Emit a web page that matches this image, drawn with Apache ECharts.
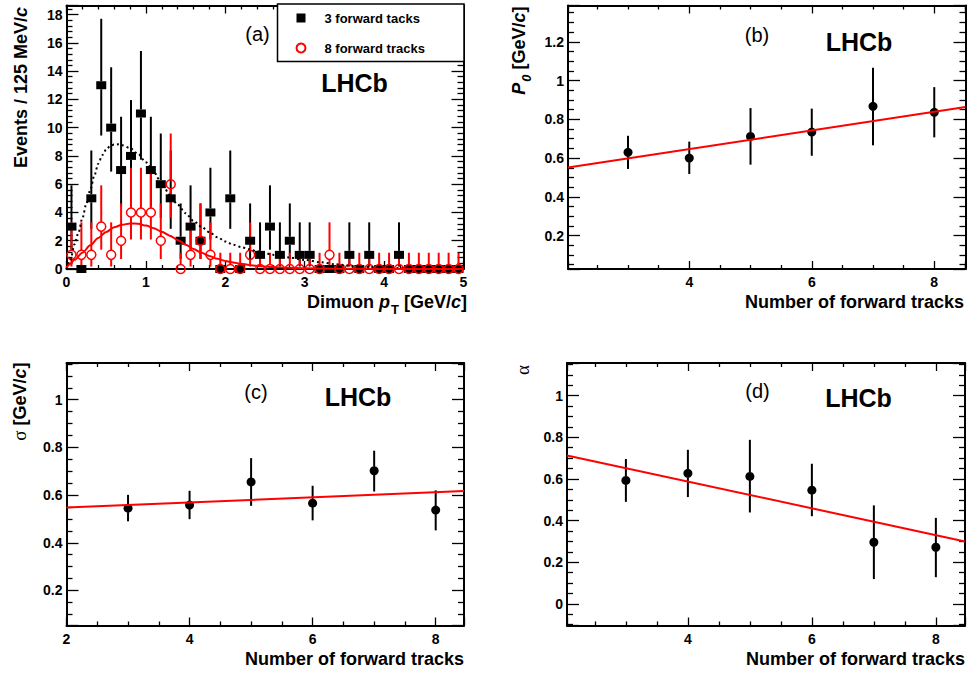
<!DOCTYPE html>
<html><head><meta charset="utf-8">
<script src="https://cdn.jsdelivr.net/npm/echarts@6/dist/echarts.min.js"></script>
<style>html,body{margin:0;padding:0;background:#fff}#c{width:968px;height:675px}</style>
</head><body><div id="c"></div>
<script>
// ---------- Panel (a): dimuon pT histograms ----------
const ptBinCenters = [0.0625,0.1875,0.3125,0.4375,0.5625,0.6875,0.8125,0.9375,1.0625,1.1875,
  1.3125,1.4375,1.5625,1.6875,1.8125,1.9375,2.0625,2.1875,2.3125,2.4375,
  2.5625,2.6875,2.8125,2.9375,3.0625,3.1875,3.3125,3.4375,3.5625,3.6875,
  3.8125,3.9375,4.0625,4.1875,4.3125,4.4375,4.5625,4.6875,4.8125,4.9375];
const counts3 = [3,0,5,13,10,7,8,11,7,6,5,2,3,2,4,0,5,0,2,1,3,1,2,1,1,0,0,0,1,0,1,0,0,1,0,0,0,0,0,0];
const counts8 = [1,1,1,3,1,2,4,4,4,2,6,0,1,2,1,0,0,0,1,0,0,0,0,0,0,0,1,0,0,0,0,0,0,0,0,0,0,0,0,0];
// Poisson (68%) interval bounds indexed by count
const poissonLow  = [0,0.173,0.708,1.367,2.086,2.840,3.620,4.419,5.232,6.057,6.891,7.734,8.585,9.441];
const poissonHigh = [1.15,3.300,4.638,5.918,7.163,8.382,9.584,10.77,11.95,13.11,14.27,15.42,16.56,17.70];
const fit3Curve = [[0,0],[0.05,0.6],[0.1,1.75],[0.15,2.55],[0.2,3.6],[0.25,4.6],[0.3,5.6],[0.35,6.6],[0.4,7.45],[0.45,8.05],[0.5,8.45],[0.55,8.7],[0.6,8.8],[0.65,8.82],[0.7,8.76],[0.8,8.55],[0.9,8.15],[1.0,7.55],[1.1,6.85],[1.2,6.05],[1.3,5.25],[1.4,4.55],[1.5,3.95],[1.6,3.4],[1.7,2.98],[1.8,2.6],[1.9,2.25],[2.0,1.95],[2.1,1.72],[2.2,1.55],[2.3,1.4],[2.4,1.25],[2.5,1.12],[2.6,1.0],[2.8,0.82],[3.0,0.64],[3.2,0.48],[3.4,0.33],[3.6,0.22],[3.8,0.14],[4.0,0.09],[4.5,0.03],[5.0,0.01]];
const fit8Curve = [[0,0.1],[0.05,0.38],[0.1,0.65],[0.2,1.15],[0.3,1.68],[0.4,2.2],[0.5,2.62],[0.6,2.95],[0.7,3.13],[0.8,3.22],[0.9,3.2],[1.0,3.07],[1.1,2.88],[1.2,2.64],[1.3,2.36],[1.4,2.05],[1.5,1.72],[1.6,1.42],[1.7,1.15],[1.8,0.92],[1.9,0.72],[2.0,0.57],[2.1,0.46],[2.2,0.37],[2.3,0.29],[2.4,0.22],[2.6,0.14],[2.8,0.09],[3.0,0.05],[3.5,0.015],[4.0,0.003],[5.0,0]];
const legendNames = ['3 forward tacks','8 forward tracks'];

// ---------- Panels (b),(c),(d): fit parameters vs number of forward tracks ----------
const nTracks = [3,4,5,6,7,8];
const p0Val  = [0.630,0.600,0.712,0.734,0.867,0.836];
const p0Low  = [0.544,0.518,0.566,0.612,0.666,0.707];
const p0High = [0.715,0.685,0.858,0.855,1.066,0.966];
const sigmaVal  = [0.545,0.558,0.655,0.566,0.702,0.537];
const sigmaLow  = [0.490,0.499,0.555,0.494,0.615,0.452];
const sigmaHigh = [0.601,0.618,0.755,0.639,0.786,0.620];
const alphaVal  = [0.593,0.627,0.612,0.546,0.296,0.272];
const alphaLow  = [0.490,0.513,0.439,0.421,0.119,0.128];
const alphaHigh = [0.696,0.740,0.788,0.673,0.473,0.413];
const p0Fit    = [[2.02,0.551],[8.51,0.863]];
const sigmaFit = [[2.00,0.548],[8.46,0.617]];
const alphaFit = [[2.05,0.713],[8.47,0.300]];

// ---------- build ----------
const F = 'Liberation Sans, Arial, Helvetica, sans-serif';
const RED = '#ff0000';
const grids = [
  {left:66.5, top:5.5, width:397, height:263.5},
  {left:568,  top:5.5, width:397.5, height:263.5},
  {left:66.5, top:363, width:397.5, height:262.5},
  {left:567,  top:363, width:398, height:262.5}
].map(g => Object.assign({show:false, containLabel:false, outerBoundsMode:'none'}, g));

const axisCfg = [
  {x:[0,5],        xs:5, xm:5, xMin:true,  xMax:true,  y:[0,18.64],     ys:9, ym:5, yMin:true,  yMax:false},
  {x:[2.02,8.51],  xs:3, xm:4, xMin:false, xMax:false, y:[0.028,1.387], ys:7, ym:4, yMin:false, yMax:false},
  {x:[2,8.46],     xs:3, xm:4, xMin:true,  xMax:false, y:[0.053,1.154], ys:6, ym:4, yMin:false, yMax:false},
  {x:[2.05,8.47],  xs:3, xm:4, xMin:false, xMax:false, y:[-0.104,1.157],ys:6, ym:4, yMin:false, yMax:false}
];
const labelStyle = {color:'#000', fontFamily:F, fontWeight:'bold', fontSize:14};
function axisBase(gi, ext, split, minor, tickLen) {
  return {type:'value', gridIndex:gi, min:ext[0], max:ext[1], splitNumber:split,
    axisLine:{show:true, onZero:false, lineStyle:{color:'#000', width:2}},
    axisTick:{show:true, inside:true, length:tickLen, lineStyle:{color:'#000', width:1.3}},
    minorTick:{show:true, splitNumber:minor, length:tickLen/2, lineStyle:{color:'#000', width:1.3}},
    splitLine:{show:false}, minorSplitLine:{show:false}, splitArea:{show:false}};
}
const xAxes = [], yAxes = [];
axisCfg.forEach((c, gi) => {
  xAxes.push(Object.assign(axisBase(gi, c.x, c.xs, c.xm, 8), {position:'bottom',
    axisLabel:Object.assign({show:true, margin:6, showMinLabel:c.xMin, showMaxLabel:c.xMax}, labelStyle)}));
  xAxes.push(Object.assign(axisBase(gi, c.x, c.xs, c.xm, 8), {position:'top', axisLabel:{show:false}}));
  yAxes.push(Object.assign(axisBase(gi, c.y, c.ys, c.ym, 12), {position:'left',
    axisLabel:Object.assign({show:true, margin:4, showMinLabel:c.yMin, showMaxLabel:c.yMax}, labelStyle)}));
  yAxes.push(Object.assign(axisBase(gi, c.y, c.ys, c.ym, 12), {position:'right', axisLabel:{show:false}}));
});

function errSeries(gi, data, color, gap) {
  return {type:'custom', xAxisIndex:2*gi, yAxisIndex:2*gi, data:data, silent:true, clip:false,
    encode:{x:0, y:[1,2,3]},
    renderItem:function(params, api){
      const x = api.value(0), v = api.value(1), lo = api.value(2), hi = api.value(3);
      const c = api.coord([x, v]), cl = api.coord([x, lo]), ch = api.coord([x, hi]);
      const kids = [];
      const st = {stroke:color, lineWidth:2};
      if (ch[1] < c[1] - gap) kids.push({type:'line', shape:{x1:c[0], y1:c[1]-gap, x2:c[0], y2:ch[1]}, style:st});
      if (cl[1] > c[1] + gap) kids.push({type:'line', shape:{x1:c[0], y1:c[1]+gap, x2:c[0], y2:cl[1]}, style:st});
      return {type:'group', children:kids};
    }};
}

const err3 = ptBinCenters.map((x,i) => { const n = counts3[i]; return [x, n, n ? poissonLow[n] : 0, n ? poissonHigh[n] : 0]; });
const err8 = ptBinCenters.map((x,i) => { const n = counts8[i]; return [x, n, poissonLow[n], poissonHigh[n]]; });

const series = [
  errSeries(0, err3, '#000', 4),
  {type:'scatter', name:legendNames[0], xAxisIndex:0, yAxisIndex:0, clip:false, symbol:'rect', symbolSize:[10,8],
    itemStyle:{color:'#000', opacity:1}, data:ptBinCenters.map((x,i)=>[x, counts3[i]])},
  errSeries(0, err8, RED, 4.5),
  {type:'scatter', name:legendNames[1], xAxisIndex:0, yAxisIndex:0, clip:false, symbol:'circle', symbolSize:9,
    itemStyle:{color:'rgba(255,255,255,0)', borderColor:RED, borderWidth:1.5, opacity:1}, data:ptBinCenters.map((x,i)=>[x, counts8[i]])},
  {type:'line', xAxisIndex:0, yAxisIndex:0, data:fit3Curve, showSymbol:false, symbol:'none', smooth:0.3, smoothMonotone:'x',
    lineStyle:{color:'#000', width:2, type:[2,3]}, silent:true},
  {type:'line', xAxisIndex:0, yAxisIndex:0, data:fit8Curve, showSymbol:false, symbol:'none', smooth:0.3, smoothMonotone:'x',
    lineStyle:{color:RED, width:2}, silent:true}
];
function paramPanel(gi, vals, lows, highs, fit) {
  series.push(errSeries(gi, nTracks.map((n,i)=>[n, vals[i], lows[i], highs[i]]), '#000', 4));
  series.push({type:'scatter', xAxisIndex:2*gi, yAxisIndex:2*gi, symbol:'circle', symbolSize:9, clip:false,
    itemStyle:{color:'#000', opacity:1}, data:nTracks.map((n,i)=>[n, vals[i]])});
  series.push({type:'line', xAxisIndex:2*gi, yAxisIndex:2*gi, data:fit, showSymbol:false, symbol:'none',
    lineStyle:{color:RED, width:2}, silent:true});
}
paramPanel(1, p0Val, p0Low, p0High, p0Fit);
paramPanel(2, sigmaVal, sigmaLow, sigmaHigh, sigmaFit);
paramPanel(3, alphaVal, alphaLow, alphaHigh, alphaFit);

// ---------- texts ----------
const tok = (o) => Object.assign({fontFamily:F, fontSize:18, fontWeight:'bold', fontStyle:'normal', fill:'#000'}, o);
const RICH = {
  b: tok({}), bi: tok({fontStyle:'italic'}),
  sub: tok({fontSize:13, padding:[14,0,0,1]}),
  subi: tok({fontSize:13, fontStyle:'italic', padding:[14,0,0,1]}),
  g: tok({fontFamily:'Liberation Serif, DejaVu Serif, serif', fontWeight:'normal', fontSize:19})
};
function label(x, y, text, opt) {
  opt = opt || {};
  const align = opt.align || 'center', va = opt.va || 'middle';
  return {type:'text', x:x, y:y, rotation:opt.rot || 0, z:70, silent:true,
    style:Object.assign({text:text, rich:opt.rich, fill:'#000', font:opt.font,
      align:align, textAlign:align, verticalAlign:va, textVerticalAlign:va}, opt.style || {})};
}
const fPanel = 'normal 20px ' + F, fLHCb = 'bold 25px ' + F;
const graphics = [
  {type:'rect', z:50, silent:true, shape:{x:277.5, y:4, width:186.5, height:57.5}, style:{fill:'#fff', stroke:'#000', lineWidth:1.5}},
  label(257.5, 34, '(a)', {font:fPanel}),
  label(354.5, 83, 'LHCb', {font:fLHCb}),
  label(757, 35, '(b)', {font:fPanel}),
  label(859, 41.5, 'LHCb', {font:fLHCb}),
  label(256, 391.5, '(c)', {font:fPanel}),
  label(358, 397, 'LHCb', {font:fLHCb}),
  label(757.5, 391, '(d)', {font:fPanel}),
  label(858.5, 397.5, 'LHCb', {font:fLHCb}),
  // axis titles
  label(20.5, 7, '{b|Events / 125 MeV/}{bi|c}', {rich:RICH, rot:Math.PI/2, align:'right'}),
  label(467, 302, '{b|Dimuon }{bi|p}{sub|T}{b| [GeV/}{bi|c}{b|]}', {rich:RICH, align:'right'}),
  label(519, 6.5, '{bi|P}{subi|0}{b| [GeV/}{bi|c}{b|]}', {rich:RICH, rot:Math.PI/2, align:'right'}),
  label(964, 302, '{b|Number of forward tracks}', {rich:RICH, align:'right'}),
  label(19.5, 362.5, '{g|σ}{b| [GeV/}{bi|c}{b|]}', {rich:RICH, rot:Math.PI/2, align:'right'}),
  label(464, 658.5, '{b|Number of forward tracks}', {rich:RICH, align:'right'}),
  label(522, 370, 'α', {font:'normal 19px Liberation Serif, DejaVu Serif, serif', rot:Math.PI/2}),
  label(965, 658.5, '{b|Number of forward tracks}', {rich:RICH, align:'right'})
];

const chart = echarts.init(document.getElementById('c'), null, {renderer:'svg', width:968, height:675});
chart.setOption({
  animation:false,
  backgroundColor:'#fff',
  grid:grids, xAxis:xAxes, yAxis:yAxes, series:series,
  legend:{show:true, data:legendNames, left:295.5, top:10, orient:'vertical', padding:0, itemGap:14,
    itemWidth:9, itemHeight:9, selectedMode:false, z:60, borderWidth:0, backgroundColor:'transparent',
    textStyle:{fontFamily:F, fontWeight:'bold', fontSize:13, color:'#000', lineHeight:16, padding:[0,0,0,14]}},
  tooltip:{show:false},
  graphic:{elements:graphics}
});
</script></body></html>
